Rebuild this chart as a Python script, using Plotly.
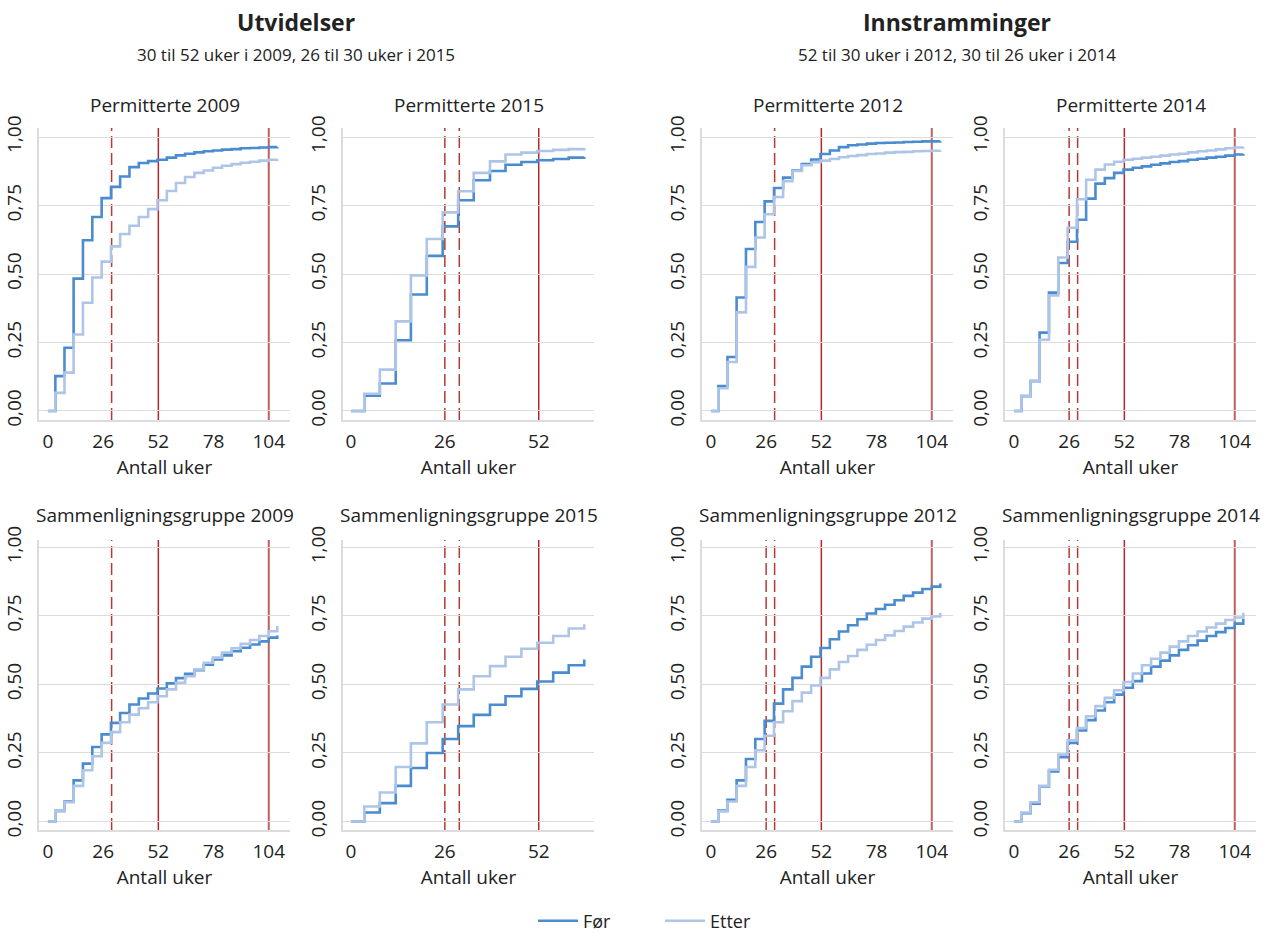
import plotly.graph_objects as go

# ---------------- data ----------------
WEEKS_LONG = [0, 3.5, 7.8, 12.1, 16.5, 20.9, 25.3, 29.7, 34.0, 38.4, 42.8, 47.2, 51.6,
              56.0, 60.3, 64.6, 69.0, 73.4, 77.7, 82.0, 86.5, 90.8, 95.2, 99.6, 104.0, 108.0]
WEEKS_SHORT = [0, 3.7, 8.0, 12.4, 16.6, 21.0, 25.4, 29.7, 34.0, 38.5, 42.8, 47.2, 51.6,
               56.0, 60.3, 64.6]

TICKS_LONG = [0, 26, 52, 78, 104]
TICKS_SHORT = [0, 26, 52]
Y_TICKS = [0, 0.25, 0.5, 0.75, 1.0]
Y_TICKTEXT = ["0,00", "0,25", "0,50", "0,75", "1,00"]

perm_2009_for = [0, 0.127, 0.231, 0.483, 0.623, 0.708, 0.777, 0.818, 0.856, 0.890, 0.905, 0.912, 0.917,
                 0.925, 0.933, 0.939, 0.944, 0.948, 0.951, 0.954, 0.956, 0.959, 0.960, 0.962, 0.963, 0.964]
perm_2009_etter = [0, 0.066, 0.140, 0.279, 0.395, 0.487, 0.545, 0.601, 0.646, 0.676, 0.708, 0.737, 0.769,
                   0.803, 0.832, 0.854, 0.869, 0.878, 0.888, 0.895, 0.901, 0.906, 0.910, 0.914, 0.917, 0.919]

perm_2015_for = [0, 0.056, 0.100, 0.258, 0.425, 0.566, 0.674, 0.769, 0.842, 0.876, 0.899, 0.909, 0.915,
                 0.920, 0.925, 0.927]
perm_2015_etter = [0, 0.063, 0.151, 0.327, 0.495, 0.628, 0.725, 0.802, 0.869, 0.911, 0.936, 0.943, 0.949,
                   0.953, 0.956, 0.960]

perm_2012_for = [0, 0.091, 0.197, 0.414, 0.591, 0.690, 0.765, 0.814, 0.852, 0.878, 0.901, 0.918, 0.938,
                 0.951, 0.963, 0.970, 0.973, 0.976, 0.978, 0.979, 0.980, 0.982, 0.983, 0.984, 0.984, 0.985]
perm_2012_etter = [0, 0.083, 0.179, 0.360, 0.526, 0.633, 0.718, 0.781, 0.839, 0.876, 0.897, 0.908, 0.914,
                   0.920, 0.926, 0.931, 0.934, 0.938, 0.940, 0.943, 0.945, 0.946, 0.948, 0.949, 0.950, 0.951]

perm_2014_for = [0, 0.054, 0.109, 0.286, 0.432, 0.540, 0.618, 0.698, 0.775, 0.830, 0.850, 0.869, 0.881,
                 0.888, 0.893, 0.899, 0.904, 0.909, 0.912, 0.917, 0.921, 0.925, 0.928, 0.932, 0.936, 0.938]
perm_2014_etter = [0, 0.054, 0.110, 0.260, 0.422, 0.560, 0.669, 0.773, 0.844, 0.881, 0.900, 0.910, 0.917,
                   0.921, 0.925, 0.928, 0.932, 0.936, 0.939, 0.944, 0.948, 0.951, 0.955, 0.959, 0.962, 0.964]

samm_2009_for = [0, 0.039, 0.073, 0.150, 0.211, 0.272, 0.318, 0.360, 0.396, 0.427, 0.449, 0.467, 0.485,
                 0.504, 0.523, 0.539, 0.552, 0.572, 0.591, 0.606, 0.621, 0.634, 0.646, 0.657, 0.671, 0.679]
samm_2009_etter = [0, 0.037, 0.070, 0.130, 0.187, 0.238, 0.287, 0.326, 0.362, 0.390, 0.413, 0.435, 0.457,
                   0.482, 0.506, 0.530, 0.555, 0.579, 0.598, 0.616, 0.632, 0.648, 0.662, 0.677, 0.694, 0.713]

samm_2015_for = [0, 0.033, 0.067, 0.130, 0.195, 0.250, 0.301, 0.348, 0.389, 0.426, 0.457, 0.484, 0.511,
                 0.543, 0.570, 0.591]
samm_2015_etter = [0, 0.055, 0.106, 0.199, 0.285, 0.362, 0.427, 0.482, 0.530, 0.567, 0.601, 0.630, 0.652,
                   0.677, 0.704, 0.720]

samm_2012_for = [0, 0.040, 0.079, 0.150, 0.228, 0.301, 0.367, 0.430, 0.482, 0.524, 0.565, 0.601, 0.633,
                 0.665, 0.693, 0.716, 0.738, 0.759, 0.775, 0.791, 0.807, 0.823, 0.835, 0.848, 0.857, 0.868]
samm_2012_etter = [0, 0.037, 0.073, 0.130, 0.199, 0.260, 0.313, 0.362, 0.402, 0.439, 0.470, 0.496, 0.524,
                   0.555, 0.582, 0.604, 0.626, 0.645, 0.662, 0.679, 0.695, 0.711, 0.726, 0.740, 0.748, 0.762]

samm_2014_for = [0, 0.030, 0.065, 0.128, 0.183, 0.235, 0.287, 0.332, 0.370, 0.405, 0.435, 0.463, 0.488,
                 0.512, 0.540, 0.565, 0.587, 0.606, 0.626, 0.643, 0.660, 0.677, 0.691, 0.706, 0.722, 0.740]
samm_2014_etter = [0, 0.033, 0.070, 0.130, 0.189, 0.244, 0.296, 0.341, 0.384, 0.421, 0.451, 0.479, 0.509,
                   0.540, 0.570, 0.594, 0.616, 0.638, 0.657, 0.677, 0.693, 0.708, 0.722, 0.735, 0.744, 0.762]

panel_titles = ["Permitterte 2009", "Permitterte 2015", "Permitterte 2012", "Permitterte 2014",
                "Sammenligningsgruppe 2009", "Sammenligningsgruppe 2015",
                "Sammenligningsgruppe 2012", "Sammenligningsgruppe 2014"]
series_for = [perm_2009_for, perm_2015_for, perm_2012_for, perm_2014_for,
              samm_2009_for, samm_2015_for, samm_2012_for, samm_2014_for]
series_etter = [perm_2009_etter, perm_2015_etter, perm_2012_etter, perm_2014_etter,
                samm_2009_etter, samm_2015_etter, samm_2012_etter, samm_2014_etter]
is_long = [True, False, True, True, True, False, True, True]
dashed_lines = [[30], [26, 30], [30], [26, 30], [30], [26, 30], [26, 30], [26, 30]]
solid_lines = [[52, 104], [52], [52, 104], [52, 104], [52, 104], [52], [52, 104], [52, 104]]

group_titles = ["Utvidelser", "Innstramminger"]
group_subtitles = ["30 til 52 uker i 2009, 26 til 30 uker i 2015",
                   "52 til 30 uker i 2012, 30 til 26 uker i 2014"]

# ---------------- layout geometry ----------------
W, H = 1276, 936
COLS = [(39, 290), (343, 594), (702, 953), (1005, 1256)]
ROWS = [(128, 420), (540, 830)]
FONT = "Open Sans"
TXT = "#222222"
C_FOR = "#4a8ccf"
C_ETTER = "#aec5e8"
GRID = "#dcdcdc"
FS = 19

fig = go.Figure()
shapes = []
annotations = []
layout_axes = {}

for i in range(8):
    r, c = divmod(i, 4)
    xs = WEEKS_LONG if is_long[i] else WEEKS_SHORT
    n = "" if i == 0 else str(i + 1)
    xa, ya = "x" + n, "y" + n
    fig.add_trace(go.Scatter(x=xs, y=series_for[i], mode="lines", line_shape="hv",
                             line=dict(color=C_FOR, width=2.6), name="Før",
                             legendgroup="for", showlegend=(i == 0), xaxis=xa, yaxis=ya,
                             hoverinfo="skip"))
    fig.add_trace(go.Scatter(x=xs, y=series_etter[i], mode="lines", line_shape="hv",
                             line=dict(color=C_ETTER, width=2.6), name="Etter",
                             legendgroup="etter", showlegend=(i == 0), xaxis=xa, yaxis=ya,
                             hoverinfo="skip"))
    x0, x1 = COLS[c]
    y0, y1 = ROWS[r]
    if is_long[i]:
        xr = [-4.2, 114]
        tv = TICKS_LONG
    else:
        xr = [-2.2, 67.3]
        tv = TICKS_SHORT
    yr = [-0.033, 1.033] if r == 0 else [-0.031, 1.027]
    layout_axes["xaxis" + n] = dict(
        domain=[x0 / W, x1 / W], range=xr, anchor=ya, tickvals=tv,
        showgrid=False, zeroline=False, showline=True, linecolor=GRID, linewidth=1.5,
        ticks="", ticklabelstandoff=3, tickfont=dict(size=FS, color=TXT, family=FONT),
        title=dict(text="Antall uker", font=dict(size=FS, color=TXT, family=FONT), standoff=0),
        automargin=False, fixedrange=True)
    layout_axes["yaxis" + n] = dict(
        domain=[1 - y1 / H, 1 - y0 / H], range=yr, anchor=xa, tickvals=Y_TICKS,
        ticktext=Y_TICKTEXT, tickangle=-90, showgrid=True, gridcolor=GRID, gridwidth=1.3,
        zeroline=False, showline=True, linecolor=GRID, linewidth=1.5, ticks="",
        ticklabelstandoff=9, tickfont=dict(size=FS, color=TXT, family=FONT),
        automargin=False, fixedrange=True)
    for v in dashed_lines[i]:
        shapes.append(dict(type="line", xref=xa, yref=ya + " domain", x0=v, x1=v, y0=0, y1=1,
                           line=dict(color="#b33a35", width=1.5, dash="12px,5px"), layer="below"))
    for v in solid_lines[i]:
        col = "#b3282d" if v == 52 else "#c0605c"
        wd = 1.5 if v == 52 else 2
        shapes.append(dict(type="line", xref=xa, yref=ya + " domain", x0=v, x1=v, y0=0, y1=1,
                           line=dict(color=col, width=wd), layer="below"))
    ty = 105 if r == 0 else 515
    annotations.append(dict(text=panel_titles[i], x=(x0 + x1) / 2 / W, y=1 - ty / H,
                            xref="paper", yref="paper", xanchor="center", yanchor="middle",
                            showarrow=False, font=dict(size=FS, color=TXT, family=FONT)))

group_centers = [296, 957]
for g in range(2):
    annotations.append(dict(text="<b>" + group_titles[g] + "</b>", x=group_centers[g] / W,
                            y=1 - 22 / H, xref="paper", yref="paper", xanchor="center",
                            yanchor="middle", showarrow=False,
                            font=dict(size=23, color=TXT, family=FONT)))
    annotations.append(dict(text=group_subtitles[g], x=group_centers[g] / W,
                            y=1 - 54 / H, xref="paper", yref="paper", xanchor="center",
                            yanchor="middle", showarrow=False,
                            font=dict(size=17, color=TXT, family=FONT)))

fig.update_layout(
    width=W, height=H, margin=dict(l=0, r=0, t=0, b=0, autoexpand=False),
    paper_bgcolor="white", plot_bgcolor="white",
    font=dict(family=FONT, color=TXT, size=FS),
    showlegend=True,
    legend=dict(orientation="h", x=533 / W, xanchor="left", y=1 - 921 / H, yanchor="middle",
                xref="container", yref="container",
                font=dict(size=18, color=TXT, family=FONT), itemwidth=40,
                entrywidth=72, entrywidthmode="pixels", bgcolor="rgba(0,0,0,0)"),
    shapes=shapes, annotations=annotations,
    **layout_axes,
)

fig.write_html("out.html", config={"displayModeBar": False},
               post_script="document.body.style.margin='0px';")
